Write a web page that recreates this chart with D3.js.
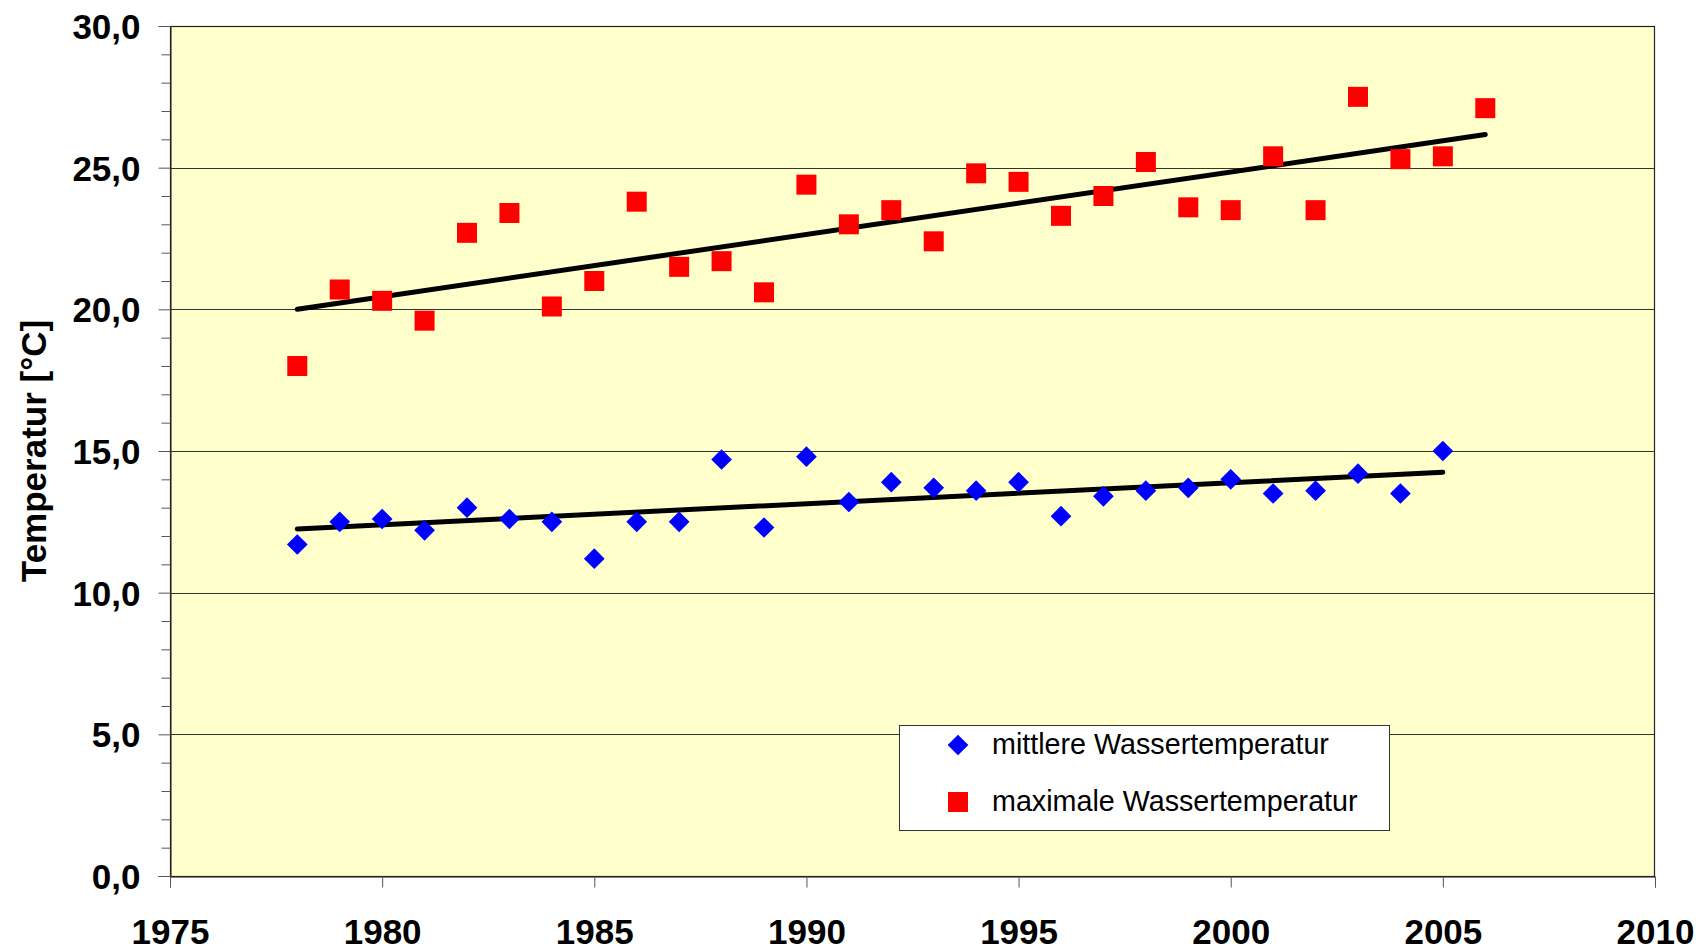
<!DOCTYPE html>
<html><head><meta charset="utf-8">
<script src="https://cdn.jsdelivr.net/npm/d3@7"></script>
<style>html,body{margin:0;padding:0;background:#fff;}svg{display:block;}</style>
</head><body>
<svg id="chart" width="1701" height="949"></svg>
<script>
const years = [1978,1979,1980,1981,1982,1983,1984,1985,1986,1987,1988,1989,1990,1991,1992,1993,1994,1995,1996,1997,1998,1999,2000,2001,2002,2003,2004,2005,2006];
const meanTemp = [11.7,12.5,12.6,12.2,13.0,12.6,12.5,11.2,12.5,12.5,14.7,12.3,14.8,13.2,13.9,13.7,13.6,13.9,12.7,13.4,13.6,13.7,14.0,13.5,13.6,14.2,13.5,15.0,null];
const maxTemp = [18.0,20.7,20.3,19.6,22.7,23.4,20.1,21.0,23.8,21.5,21.7,20.6,24.4,23.0,23.5,22.4,24.8,24.5,23.3,24.0,25.2,23.6,23.5,25.4,23.5,27.5,25.3,25.4,27.1];
const meanTrend = [[1978,12.25],[2005,14.25]];
const maxTrend = [[1978,20.0],[2006,26.17]];
const xTicks = [1975,1980,1985,1990,1995,2000,2005,2010];
const yTicks = [0,5,10,15,20,25,30];
const legendLabels = ["mittlere Wassertemperatur","maximale Wassertemperatur"];
const yTitle = "Temperatur [°C]";

const svg = d3.select("#chart");
const L = 170, R = 1655, T = 26, B = 876;
const x = d3.scaleLinear().domain([1975,2010]).range([L,R]);
const y = d3.scaleLinear().domain([0,30]).range([B,T]);
const font = "'Liberation Sans', Arial, sans-serif";
const fmt = v => d3.format(".1f")(v).replace(".", ",");

svg.append("rect").attr("x",L).attr("y",T).attr("width",R-L).attr("height",B-T).attr("fill","#FFFFCC");

// grid
svg.append("g").selectAll("line").data(yTicks.filter(v=>v>0 && v<30)).join("line")
  .attr("x1",L).attr("x2",R).attr("y1",d=>Math.round(y(d))+0.5).attr("y2",d=>Math.round(y(d))+0.5)
  .attr("stroke","#333").attr("stroke-width",1);

svg.append("rect").attr("x",L+0.5).attr("y",T+0.5).attr("width",R-L-1).attr("height",B-T)
  .attr("fill","none").attr("stroke","#222").attr("stroke-width",1.2);

// y axis
const yAxis = d3.axisLeft(y).tickValues(yTicks).tickSize(12).tickFormat(fmt);
const gy = svg.append("g").attr("transform",`translate(${L+0.5},0)`).call(yAxis);
gy.select(".domain").attr("stroke","#222");
gy.selectAll(".tick line").attr("stroke","#555");
gy.selectAll(".tick text").attr("font-family",font).attr("font-weight","bold").attr("font-size",35)
  .attr("fill","#000").attr("x",-30).attr("dy","0.36em");
const yMinor = d3.axisLeft(y).tickValues(d3.range(0,31,1).filter(v=>v%5!==0)).tickSize(9).tickFormat("");
const gym = svg.append("g").attr("transform",`translate(${L+0.5},0)`).call(yMinor);
gym.select(".domain").remove();
gym.selectAll(".tick line").attr("stroke","#555");

// x axis
const xAxis = d3.axisBottom(x).tickValues(xTicks).tickSize(11).tickFormat(d3.format("d"));
const gx = svg.append("g").attr("transform",`translate(0,${B+0.5})`).call(xAxis);
gx.select(".domain").attr("stroke","#222");
gx.selectAll(".tick line").attr("stroke","#555");
gx.selectAll(".tick text").attr("font-family",font).attr("font-weight","bold").attr("font-size",35)
  .attr("fill","#000").attr("y",67).attr("dy",0);

// y title
svg.append("text").attr("transform",`translate(46,${(T+B)/2}) rotate(-90)`)
  .attr("text-anchor","middle").attr("font-family",font).attr("font-weight","bold").attr("font-size",35)
  .text(yTitle);

// trend lines
const line = d3.line().x(d=>x(d[0])).y(d=>y(d[1]));
[meanTrend,maxTrend].forEach(t=>{
  svg.append("path").attr("d",line(t)).attr("stroke","#000").attr("stroke-width",5)
    .attr("stroke-linecap","round").attr("fill","none");
});

// markers
const diamond = d3.symbol().type(d3.symbolSquare).size(215);
const pts = years.map((yr,i)=>({yr,m:meanTemp[i],mx:maxTemp[i]}));
svg.append("g").selectAll("path").data(pts.filter(d=>d.m!=null)).join("path")
  .attr("d",diamond).attr("transform",d=>`translate(${x(d.yr)},${y(d.m)}) rotate(45)`).attr("fill","#0000FF");
svg.append("g").selectAll("rect").data(pts.filter(d=>d.mx!=null)).join("rect")
  .attr("x",d=>x(d.yr)-10).attr("y",d=>y(d.mx)-10).attr("width",20).attr("height",20).attr("fill","#FF0000");

// legend
const lg = svg.append("g");
lg.append("rect").attr("x",899.5).attr("y",725.5).attr("width",490).attr("height",105)
  .attr("fill","#fff").attr("stroke","#333").attr("stroke-width",1);
lg.append("path").attr("d",diamond).attr("transform","translate(958,745) rotate(45)").attr("fill","#0000FF");
lg.append("rect").attr("x",948).attr("y",792).attr("width",20).attr("height",20).attr("fill","#FF0000");
lg.selectAll("text").data(legendLabels).join("text")
  .attr("x",992).attr("y",(d,i)=>754+i*57).attr("font-family",font).attr("font-size",28.7).attr("fill","#000").text(d=>d);
</script>
</body></html>
